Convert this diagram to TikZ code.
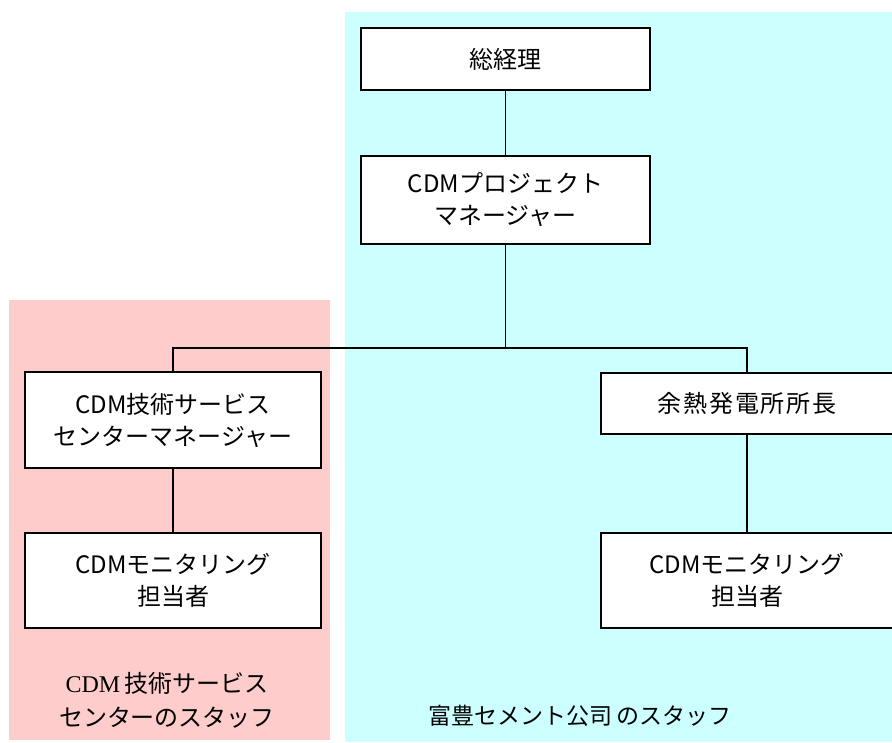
\documentclass[tikz,border=0pt]{standalone}
\usepackage{fontspec}
\setmainfont{Noto Sans CJK JP}
\newfontfamily\serlat{Liberation Serif}
\definecolor{cyanbg}{HTML}{CCFFFF}
\definecolor{pinkbg}{HTML}{FFCCCC}
\begin{document}
\begin{tikzpicture}[x=1pt,y=-1pt,
  orgbox/.style={draw=black, line width=1.4pt, fill=white, inner sep=0pt, align=center,
    font=\fontsize{24}{32}\selectfont},
  link/.style={draw=black, line width=1.2pt},
  grouplabel/.style={inner sep=0pt, align=center, font=\fontsize{23}{34}\selectfont}]
\useasboundingbox (0,0) rectangle (892,742);
% group backgrounds
\fill[cyanbg] (345,12) rectangle (892,742);
\fill[pinkbg] (9,300) rectangle (330,740);
% boxes
\node[orgbox, minimum width=289pt, minimum height=62pt] (gm) at (505.5,59) {総経理};
\node[orgbox, minimum width=289pt, minimum height=88pt] (pm) at (505.5,200) {CDMプロジェクト\\マネージャー};
\node[orgbox, minimum width=296pt, minimum height=96pt] (tech) at (173,420) {CDM技術サービス\\センターマネージャー};
\node[orgbox, minimum width=292pt, minimum height=61pt] (plant) at (747,403.5) {\addfontfeature{LetterSpace=8}余熱発電所所長};
\node[orgbox, minimum width=296pt, minimum height=95pt] (monl) at (173,580.5) {CDMモニタリング\\担当者};
\node[orgbox, minimum width=292pt, minimum height=95pt] (monr) at (747,580.5) {CDMモニタリング\\担当者};
% connectors
\coordinate (j) at (505.5,348);
\draw[link] (gm.south) -- (pm.north);
\draw[link] (pm.south) -- (j);
\draw[link] (tech.north) |- (j) -| (plant.north);
\draw[link] (tech.south) -- (monl.north);
\draw[link] (plant.south) -- (monr.north);
% group labels
\node[grouplabel, font=\fontsize{24}{34}\selectfont] (lblL) at (167,700) {{\serlat CDM}\,技術サービス\\センターのスタッフ};
\node[grouplabel] (lblR) at (580,716) {富豊セメント公司\,のスタッフ};
\end{tikzpicture}
\end{document}
